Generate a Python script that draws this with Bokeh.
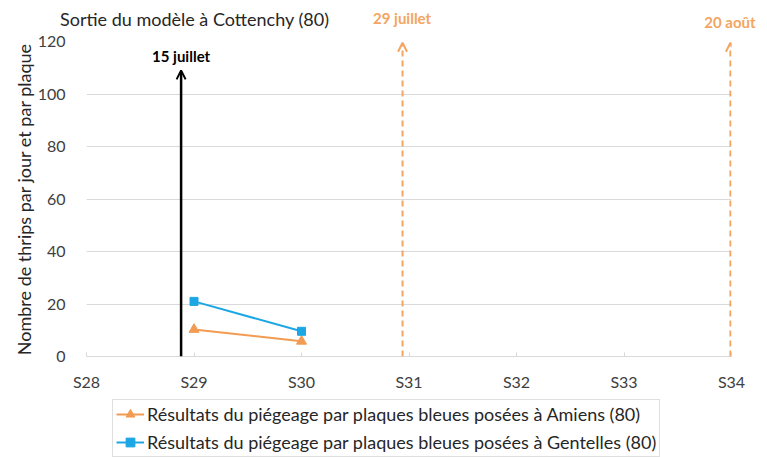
from bokeh.plotting import figure
from bokeh.layouts import column
from bokeh.models import (Range1d, Label, Arrow, OpenHead, Legend, LegendItem,
                          FixedTicker, Div)
from bokeh.embed import file_html
from bokeh.resources import INLINE

# ---- data ----
weeks = ["S28", "S29", "S30", "S31", "S32", "S33", "S34"]
amiens_weeks = ["S29", "S30"]
amiens_values = [10.3, 5.8]
gentelles_weeks = ["S29", "S30"]
gentelles_values = [21.0, 9.6]
y_ticks = [0, 20, 40, 60, 80, 100, 120]
event_labels = ["15 juillet", "29 juillet", "20 août"]
event_positions = [0.88, 2.94, 5.99]   # position along the week axis (index)
event_tops = [109, 119.5, 119.5]
title_text = "Sortie du modèle à Cottenchy (80)"
y_label = "Nombre de thrips par jour et par plaque"
legend_labels = ["Résultats du piégeage par plaques bleues posées à Amiens (80)",
                 "Résultats du piégeage par plaques bleues posées à Gentelles (80)"]

# ---- style ----
FONT = "Lato"
ORANGE = "#F29B52"
BLUE = "#1CA7E4"
EV_ORANGE = "#F3A562"
GRID = "#D9D9D9"
TXT = "#262626"

W = 760
HEADER_H = 30
MAIN_H = 365
LEGEND_H = 62
FL, FR = 86, 29          # frame borders (left/right)
FT, FB = 11, 39          # frame borders (top/bottom) of the main plot
px_per_unit = (W - FL - FR) / (len(weeks) - 1)

# ---- main plot ----
p = figure(width=W, height=MAIN_H, output_backend="svg", toolbar_location=None,
           x_range=Range1d(0, len(weeks) - 1), y_range=Range1d(0, 120),
           min_border_left=FL, min_border_right=FR, min_border_top=FT,
           min_border_bottom=FB)
p.outline_line_color = None

p.xaxis.ticker = FixedTicker(ticks=list(range(len(weeks))))
p.xaxis.major_label_overrides = {i: w for i, w in enumerate(weeks)}
p.xaxis.axis_line_color = GRID
p.xaxis.major_tick_line_color = GRID
p.xaxis.major_tick_in = 4
p.xaxis.major_tick_out = 0
p.xaxis.minor_tick_line_color = None
p.xaxis.major_label_standoff = 15
p.xaxis.major_label_text_font = FONT
p.xaxis.major_label_text_font_size = "16px"
p.xaxis.major_label_text_color = "#404040"

p.yaxis.ticker = FixedTicker(ticks=y_ticks)
p.yaxis.axis_line_color = None
p.yaxis.major_tick_line_color = None
p.yaxis.minor_tick_line_color = None
p.yaxis.major_label_standoff = 15
p.yaxis.major_label_text_font = FONT
p.yaxis.major_label_text_font_size = "16px"
p.yaxis.major_label_text_color = "#404040"
p.yaxis.axis_label = y_label
p.yaxis.axis_label_text_font = FONT
p.yaxis.axis_label_text_font_size = "18px"
p.yaxis.axis_label_text_font_style = "normal"
p.yaxis.axis_label_text_color = TXT
p.yaxis.axis_label_standoff = 0

p.xgrid.grid_line_color = None
p.ygrid.grid_line_color = GRID

ax = [weeks.index(w) for w in amiens_weeks]
gx = [weeks.index(w) for w in gentelles_weeks]
p.line(ax, amiens_values, line_color=ORANGE, line_width=2)
p.scatter(ax, amiens_values, marker="triangle", size=10,
          fill_color=ORANGE, line_color=ORANGE)
p.line(gx, gentelles_values, line_color=BLUE, line_width=2)
p.scatter(gx, gentelles_values, marker="square", size=8,
          fill_color=BLUE, line_color=BLUE)

# event arrows
ev_colors = ["#000000", EV_ORANGE, EV_ORANGE]
ev_dash = ["solid", "6 4", "6 4"]
ev_width = [2.5, 2, 2]
for xpos, top, col, dash, lw in zip(event_positions, event_tops, ev_colors, ev_dash, ev_width):
    p.add_layout(Arrow(x_start=xpos, y_start=0, x_end=xpos, y_end=top,
                       line_color=col, line_width=lw, line_dash=dash,
                       end=OpenHead(size=9, line_color=col, line_width=2)))

p.add_layout(Label(x=event_positions[0], y=114.5, text=event_labels[0],
                   text_align="center", text_baseline="alphabetic",
                   text_font=FONT, text_font_size="15px",
                   text_font_style="bold", text_color=ev_colors[0]))

# ---- legend strip (same series styles, drawn outside its visible range) ----
lf = figure(width=W, height=LEGEND_H, output_backend="svg", toolbar_location=None,
            x_range=Range1d(100, 101), y_range=Range1d(100, 101),
            min_border_left=FL, min_border_right=FR, min_border_top=0,
            min_border_bottom=0)
lf.axis.visible = False
lf.grid.visible = False
lf.outline_line_color = None
l1 = lf.line(ax, amiens_values, line_color=ORANGE, line_width=2)
m1 = lf.scatter(ax, amiens_values, marker="triangle", size=10,
                fill_color=ORANGE, line_color=ORANGE)
l2 = lf.line(gx, gentelles_values, line_color=BLUE, line_width=2)
m2 = lf.scatter(gx, gentelles_values, marker="square", size=8,
                fill_color=BLUE, line_color=BLUE)
legend = Legend(items=[LegendItem(label=legend_labels[0], renderers=[l1, m1]),
                       LegendItem(label=legend_labels[1], renderers=[l2, m2])],
                location=(26, 0), orientation="vertical",
                label_text_font=FONT, label_text_font_size="18px",
                label_text_color=TXT,
                glyph_width=28, glyph_height=22, label_height=22,
                label_standoff=3, spacing=6, padding=3, margin=0,
                border_line_color="#BFBFBF", border_line_width=1)
lf.add_layout(legend, "center")

# ---- header (title and upper event labels), aligned to the plot's x scale ----
def px(x):
    return FL + x * px_per_unit

spans = ['<div style="position:absolute;left:60px;top:10px;font:18px Lato;'
         'line-height:18px;color:%s;white-space:nowrap;">%s</div>' % (TXT, title_text)]
header_tops = [11, 15]
for lab, xpos, col, tp in zip(event_labels[1:], event_positions[1:], ev_colors[1:], header_tops):
    spans.append('<div style="position:absolute;left:%.1fpx;top:%dpx;'
                 'transform:translateX(-50%%);font:bold 15px Lato;line-height:15px;'
                 'color:%s;white-space:nowrap;">%s</div>' % (px(xpos), tp, col, lab))
header = Div(text='<div style="position:relative;width:%dpx;height:%dpx;">%s</div>'
             % (W, HEADER_H, "".join(spans)),
             width=W, height=HEADER_H, margin=0)

layout = column(header, p, lf, spacing=0)
open("out.html", "w").write(file_html(layout, INLINE))
